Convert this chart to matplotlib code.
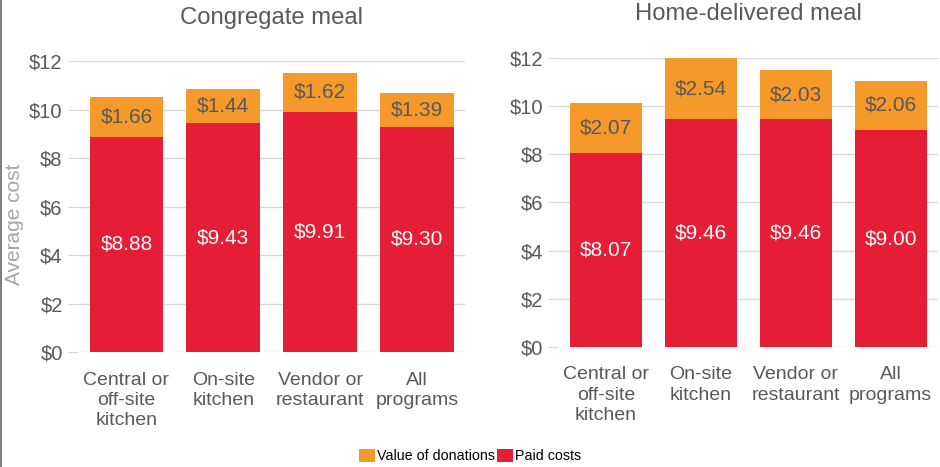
import matplotlib.pyplot as plt
from matplotlib import rcParams
from matplotlib.lines import Line2D

rcParams['font.family'] = ['Liberation Sans', 'DejaVu Sans']

# Данные
categories = ["Central or\noff-site\nkitchen", "On-site\nkitchen",
              "Vendor or\nrestaurant", "All\nprograms"]
congregate_paid = [8.88, 9.43, 9.91, 9.30]
congregate_donations = [1.66, 1.44, 1.62, 1.39]
home_paid = [8.07, 9.46, 9.46, 9.00]
home_donations = [2.07, 2.54, 2.03, 2.06]

RED = '#E51E36'
ORANGE = '#F4992A'
TEXT = '#595959'
GRID = '#D9D9D9'


def draw_panel(ax, paid, donations, title, ylabel=None):
    x = range(len(categories))
    ax.bar(x, paid, width=0.76, color=RED, label="Paid costs", zorder=2)
    ax.bar(x, donations, width=0.76, bottom=paid, color=ORANGE,
           label="Value of donations", zorder=2)
    for i, (p, d) in enumerate(zip(paid, donations)):
        ax.text(i, p / 2, f"${p:.2f}", ha='center', va='center',
                color='white', fontsize=15)
        ax.text(i, p + d / 2, f"${d:.2f}", ha='center', va='center',
                color=TEXT, fontsize=15)
    ax.set_ylim(0, 12)
    ax.set_xlim(-0.5, 3.5)
    ax.set_yticks(range(0, 13, 2))
    ax.set_yticklabels([f"${v}" for v in range(0, 13, 2)])
    ax.set_xticks(list(x))
    ax.set_xticklabels(categories, linespacing=1.25)
    ax.grid(axis='y', color=GRID, linewidth=1, zorder=0)
    for s in ax.spines.values():
        s.set_visible(False)
    ax.tick_params(axis='y', length=7, color=GRID, colors=TEXT,
                   labelsize=14.5, pad=4)
    ax.tick_params(axis='x', length=0, colors=TEXT, labelsize=14, pad=14)
    ax.set_title(title, fontsize=17.2, color=TEXT, pad=27)
    if ylabel:
        ax.set_ylabel(ylabel, fontsize=15, color='#A6A6A6')
        ax.yaxis.set_label_coords(-0.14, 0.44)


fig = plt.figure(figsize=(9.4, 4.67), dpi=100)
ax1 = fig.add_axes([0.083, 0.246, 0.412, 0.623])
ax2 = fig.add_axes([0.594, 0.257, 0.404, 0.619])

draw_panel(ax1, congregate_paid, congregate_donations, "Congregate meal",
           "Average cost")
draw_panel(ax2, home_paid, home_donations, "Home-delivered meal")

handles, labels = ax1.get_legend_handles_labels()
fig.legend(handles[::-1], labels[::-1], loc='lower center',
           bbox_to_anchor=(0.5, -0.02), ncol=2, frameon=False, fontsize=10.3,
           handlelength=1.1, handleheight=1.1, handletextpad=0.1,
           columnspacing=0.2, labelcolor='#000000')

fig.add_artist(Line2D([0.001, 0.001], [0, 1], color='#7F7F7F', linewidth=1.5,
                      transform=fig.transFigure))

plt.savefig("out.png", dpi=100)
